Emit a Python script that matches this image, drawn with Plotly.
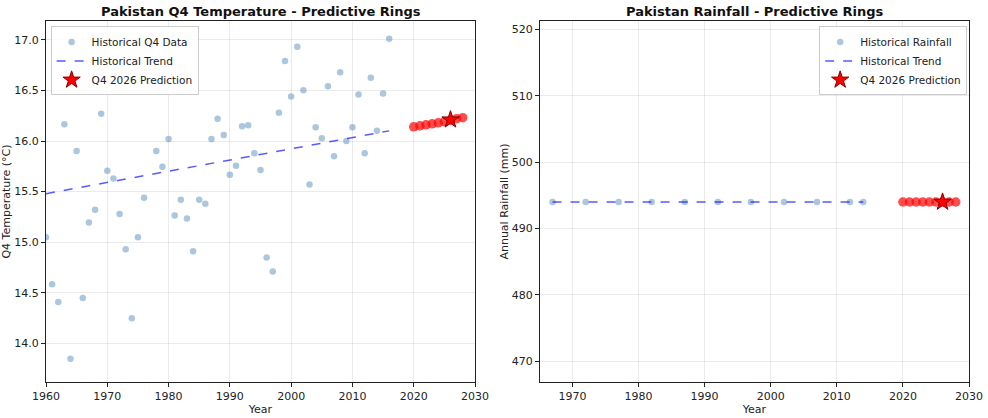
import plotly.graph_objects as go

# ---- Data: Q4 temperature ----
temp_years = list(range(1960, 2017))
temp_values = [15.05, 14.585, 14.41, 16.165, 13.85, 15.90, 14.45, 15.196, 15.32, 16.27,
               15.705, 15.63, 15.28, 14.93, 14.25, 15.05, 15.44, 16.95, 15.90, 15.745,
               16.02, 15.265, 15.42, 15.235, 14.91, 15.42, 15.38, 16.02, 16.22, 16.06,
               15.666, 15.755, 16.146, 16.155, 15.88, 15.714, 14.85, 14.71, 16.28, 16.79,
               16.44, 16.93, 16.50, 15.57, 16.135, 16.026, 16.54, 15.85, 16.68, 16.00,
               16.135, 16.46, 15.88, 16.625, 16.10, 16.47, 17.01]
temp_trend_years = [1960, 2016]
temp_trend_values = [15.48, 16.10]
temp_pred_years = [2020, 2021, 2022, 2023, 2024, 2025, 2026, 2027, 2028]
temp_pred_values = [16.14, 16.15, 16.16, 16.17, 16.18, 16.19, 16.205, 16.22, 16.23]
temp_star_year = [2026]
temp_star_value = [16.21]

# ---- Data: rainfall ----
rain_years = [1967, 1972, 1977, 1982, 1987, 1992, 1997, 2002, 2007, 2012, 2014]
rain_values = [494.0] * 11
rain_trend_years = [1967, 2014]
rain_trend_values = [494.0, 494.0]
rain_pred_years = [2020, 2021, 2022, 2023, 2024, 2025, 2026, 2027, 2028]
rain_pred_values = [494.0] * 9
rain_star_year = [2026]
rain_star_value = [494.0]

FONT = "DejaVu Sans"
hist_color = "rgba(70,130,180,0.45)"
trend_color = "rgba(0,0,255,0.65)"
ring_color = "rgba(255,0,0,0.7)"

fig = go.Figure()

# Left panel
fig.add_trace(go.Scatter(x=temp_years, y=temp_values, mode="markers", name="Historical Q4 Data",
                         marker=dict(size=6.5, color=hist_color), xaxis="x", yaxis="y", legend="legend"))
fig.add_trace(go.Scatter(x=temp_trend_years, y=temp_trend_values, mode="lines", name="Historical Trend",
                         line=dict(color=trend_color, width=1.5, dash="dash"), xaxis="x", yaxis="y", legend="legend"))
fig.add_trace(go.Scatter(x=temp_pred_years, y=temp_pred_values, mode="markers", showlegend=False,
                         marker=dict(size=9.5, color=ring_color), xaxis="x", yaxis="y"))
fig.add_trace(go.Scatter(x=temp_star_year, y=temp_star_value, mode="markers", name="Q4 2026 Prediction",
                         marker=dict(size=13, symbol="star", color="red", line=dict(color="darkred", width=1)),
                         xaxis="x", yaxis="y", legend="legend"))

# Right panel
fig.add_trace(go.Scatter(x=rain_years, y=rain_values, mode="markers", name="Historical Rainfall",
                         marker=dict(size=6.5, color=hist_color), xaxis="x2", yaxis="y2", legend="legend2"))
fig.add_trace(go.Scatter(x=rain_trend_years, y=rain_trend_values, mode="lines", name="Historical Trend",
                         line=dict(color=trend_color, width=1.5, dash="dash"), xaxis="x2", yaxis="y2", legend="legend2"))
fig.add_trace(go.Scatter(x=rain_pred_years, y=rain_pred_values, mode="markers", showlegend=False,
                         marker=dict(size=9.5, color=ring_color), xaxis="x2", yaxis="y2"))
fig.add_trace(go.Scatter(x=rain_star_year, y=rain_star_value, mode="markers", name="Q4 2026 Prediction",
                         marker=dict(size=13, symbol="star", color="red", line=dict(color="darkred", width=1)),
                         xaxis="x2", yaxis="y2", legend="legend2"))

axis_common = dict(showline=True, linecolor="#222", linewidth=1, mirror=True, ticks="outside",
                   ticklen=4, tickcolor="#222", showgrid=True, gridcolor="rgba(0,0,0,0.08)",
                   zeroline=False, automargin=False, tickfont=dict(family=FONT, size=11, color="#222"))

lw = (475 - 46) / 923
rs = (540 - 46) / 923

legend_common = dict(bgcolor="rgba(255,255,255,0.85)", bordercolor="#ccc", borderwidth=1,
                     font=dict(family=FONT, size=10.5), tracegroupgap=0, itemsizing="trace",
                     xref="paper", yref="paper", yanchor="top")

fig.update_layout(
    width=988, height=418,
    margin=dict(l=46, r=19, t=21, b=36),
    paper_bgcolor="white", plot_bgcolor="white",
    font=dict(family=FONT, size=11, color="#222"),
    xaxis=dict(domain=[0, lw], range=[1960, 2030], dtick=10, anchor="y",
               title=dict(text="Year", font=dict(size=11), standoff=3), **axis_common),
    yaxis=dict(domain=[0, 1], range=[13.62, 17.185], dtick=0.5, tickformat=".1f", anchor="x",
               title=dict(text="Q4 Temperature (°C)", font=dict(size=11), standoff=6), **axis_common),
    xaxis2=dict(domain=[rs, 1], range=[1965.1, 2030], dtick=10, anchor="y2",
                title=dict(text="Year", font=dict(size=11), standoff=3), **axis_common),
    yaxis2=dict(domain=[0, 1], range=[466.9, 521.25], dtick=10, anchor="x2",
                title=dict(text="Annual Rainfall (mm)", font=dict(size=11), standoff=0), **axis_common),
    legend=dict(x=0.005, y=0.985, xanchor="left", **legend_common),
    legend2=dict(x=0.998, y=0.985, xanchor="right", **legend_common),
    annotations=[
        dict(text="<b>Pakistan Q4 Temperature - Predictive Rings</b>", x=lw / 2, y=1, xref="paper", yref="paper",
             xanchor="center", yanchor="bottom", yshift=0, showarrow=False, font=dict(family=FONT, size=13, color="#111")),
        dict(text="<b>Pakistan Rainfall - Predictive Rings</b>", x=(rs + 1) / 2, y=1, xref="paper", yref="paper",
             xanchor="center", yanchor="bottom", yshift=0, showarrow=False, font=dict(family=FONT, size=13, color="#111")),
    ],
)

fig.write_html("out.html", config={"displayModeBar": False},
               post_script="document.body.style.margin='0';document.body.style.overflow='hidden';")
